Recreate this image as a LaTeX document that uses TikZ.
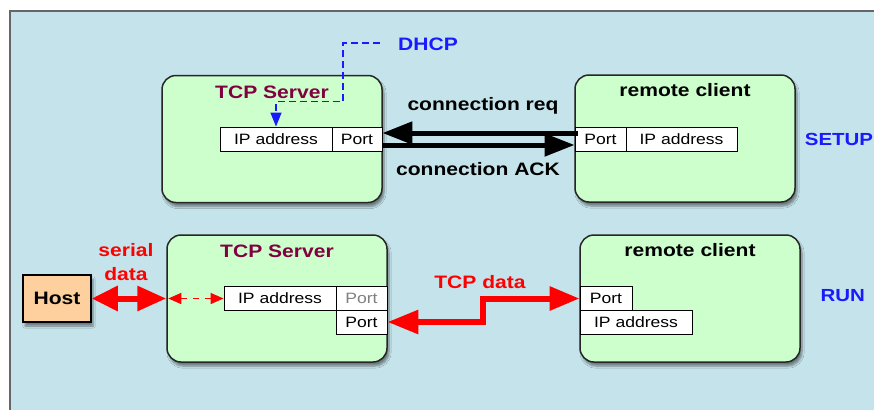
\documentclass[tikz,border=0pt]{standalone}
\usepackage{fontspec}
\setmainfont{Liberation Sans}[FakeStretch=1.17]
\usetikzlibrary{arrows.meta,shadows.blur,calc}
\definecolor{bgblue}{HTML}{C5E3EA}
\definecolor{boxgreen}{HTML}{CCFFCC}
\definecolor{titlered}{HTML}{800040}
\definecolor{hostfill}{HTML}{FDD09E}
\definecolor{myblue}{HTML}{1A1AFF}
\definecolor{myred}{HTML}{FF0000}
\begin{document}
\begin{tikzpicture}[x=1pt,y=-1pt,
  panel/.style={draw=black!85, line width=1.5pt, fill=boxgreen, rounded corners=14pt,
    blur shadow={shadow xshift=2pt, shadow yshift=-4pt, shadow blur steps=6, shadow opacity=45},
    inner sep=0pt, minimum width=220pt, minimum height=127pt},
  field/.style={draw=black, line width=0.9pt, fill=white, inner sep=0pt, minimum height=24pt,
    font=\fontsize{15}{16}\selectfont},
  title/.style={anchor=base, font=\fontsize{18}{20}\selectfont\bfseries},
  lbl/.style={anchor=base, font=\fontsize{18}{20}\selectfont\bfseries},
  phase/.style={anchor=base, text=myblue, font=\fontsize{17.5}{20}\selectfont\bfseries},
  bigarrow/.style={line width=5pt, -{Triangle[length=30pt,width=22pt]}},
  redarrow/.style={myred, line width=6pt},
]
\useasboundingbox (0,0) rectangle (874,410);
\fill[white] (0,0) rectangle (874,410);
\fill[bgblue] (10,11) rectangle (874,410);
\draw[black!60, line width=1.3pt] (10,410) -- (10,11) -- (874,11);

% SETUP row
\node[panel] (srv1) at (272,139) {};
\node[panel] (cli1) at (685,138.5) {};
\node[title, text=titlered] (srv1t) at (272,98.3) {TCP Server};
\node[title] (cli1t) at (685,96.7) {remote client};
\node[field, minimum width=112pt] (ip1) at (276,139) {IP address};
\node[field, minimum width=50pt] (sp1) at (357,139) {Port};
\node[field, minimum width=51pt] (cp1) at (600.5,139) {Port};
\node[field, minimum width=111pt] (cip1) at (681.5,139) {IP address};

\node[lbl, text=myblue] (dhcp) at (428,50.7) {DHCP};
\coordinate (dhcpend) at (380,43);
\draw[myblue, line width=1.4pt, dash pattern=on 7pt off 4pt, -{Triangle[length=14pt,width=11pt]}]
  (dhcpend) -- (343,43) -- (343,101.7) -- (276,101.7) -- (ip1.north);

\draw[bigarrow] ([yshift=6pt,xshift=3pt]cp1.west) -- ([yshift=6pt]sp1.east);
\draw[bigarrow] ([yshift=-6pt]sp1.east) -- ([yshift=-6pt]cp1.west);
\node[lbl] (req) at (483,110.7) {connection req};
\node[lbl] (ack) at (478,175) {connection ACK};
\node[phase] (setup) at (839,145) {SETUP};

% RUN row
\node[panel] (srv2) at (277,298.5) {};
\node[panel] (cli2) at (690,298.5) {};
\node[title, text=titlered] (srv2t) at (277,257.3) {TCP Server};
\node[title] (cli2t) at (690,256.7) {remote client};
\node[field, minimum width=112pt, minimum height=23.5pt] (ip2) at (280,298.5) {IP address};
\node[field, minimum width=51pt, minimum height=23.5pt, text=black!50] (sp2) at (361.5,298.5) {Port};
\node[field, minimum width=51pt] (sp2b) at (361.5,322) {Port};
\node[field, minimum width=52pt, minimum height=23.5pt] (cp2) at (606,298.5) {Port};
\node[field, minimum width=112pt] (cip2) at (636,322) {IP address};

\node[draw=black, line width=1.5pt, fill=hostfill, minimum width=68pt, minimum height=47pt, inner sep=0pt,
  blur shadow={shadow xshift=2pt, shadow yshift=-4pt, shadow blur steps=6, shadow opacity=45},
  font=\fontsize{18}{20}\selectfont\bfseries] (host) at (57,298.5) {Host};

\draw[redarrow, {Triangle[length=26pt,width=24pt]}-{Triangle[length=29pt,width=24pt]}] (host.east) -- (srv2.west);
\draw[myred, line width=1.6pt, dash pattern=on 6pt off 6pt,
  {Triangle[length=13pt,width=11pt]}-{Triangle[length=13pt,width=11pt]}] ([xshift=2pt]srv2.west) -- (ip2.west);
\node[lbl, text=myred] (serial) at (126,256) {serial};
\node[lbl, text=myred] (sdata) at (126,280) {data};

\draw[redarrow, {Triangle[length=31pt,width=23pt]}-{Triangle[length=30pt,width=23pt]}]
  (sp2b.east) -- ++(96,0) |- (cp2.west);
\node[lbl, text=myred] (tcpdata) at (480,288.3) {TCP data};
\node[phase] (run) at (842.7,301.7) {RUN};
\end{tikzpicture}
\end{document}
